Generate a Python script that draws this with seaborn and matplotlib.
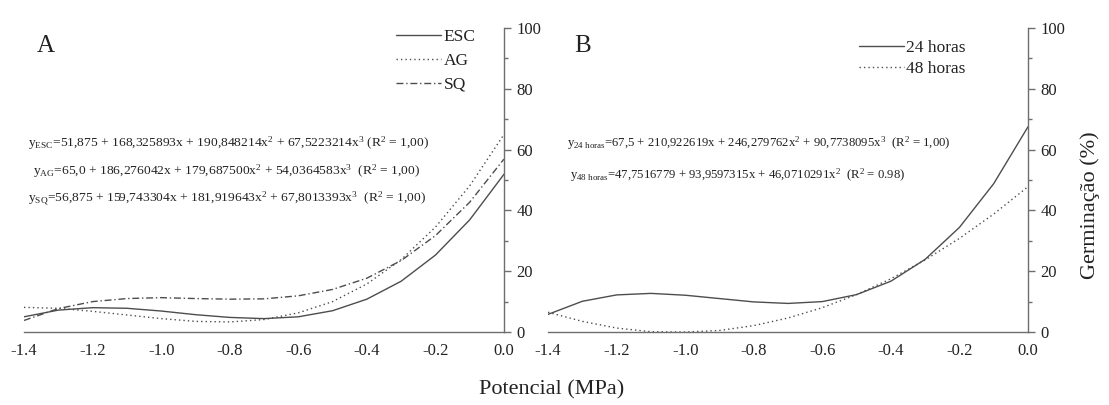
import matplotlib
matplotlib.use("Agg")
import matplotlib.pyplot as plt
import seaborn as sns
from matplotlib.ticker import MultipleLocator, FormatStrFormatter

# Water potential levels (MPa)
potencial = [-1.4, -1.3, -1.2, -1.1, -1.0, -0.9, -0.8, -0.7,
             -0.6, -0.5, -0.4, -0.3, -0.2, -0.1, 0.0]

# Panel A: germination (%) per treatment
esc = [5.0, 7.2, 8.0, 7.8, 6.9, 5.7, 4.8, 4.4, 5.0, 7.0, 10.8, 16.7, 25.3, 36.9, 51.9]
ag = [8.1, 7.8, 6.8, 5.6, 4.4, 3.5, 3.3, 4.1, 6.3, 10.0, 15.8, 23.8, 34.5, 48.1, 65.0]
sq = [3.8, 7.7, 10.0, 11.0, 11.3, 11.0, 10.8, 10.9, 11.9, 14.0, 17.7, 23.5, 31.7, 42.7, 56.9]

# Panel B: germination (%) per soaking time
h24 = [5.8, 10.1, 12.2, 12.7, 12.1, 11.0, 9.9, 9.4, 10.0, 12.3, 16.7, 23.9, 34.4, 48.8, 67.5]
h48 = [6.5, 3.5, 1.3, 0.1, 0.0, 0.5, 2.1, 4.6, 8.0, 12.3, 17.5, 23.7, 30.8, 38.8, 47.8]

labels_a = ["ESC", "AG", "SQ"]
labels_b = ["24 horas", "48 horas"]

eq_a = [
    r"$\mathrm{y}_{\mathrm{ESC}}$=51,875 + 168,325893x + 190,848214x$^{2}$ + 67,5223214x$^{3}$ (R$^{2}$ = 1,00)",
    r"$\mathrm{y}_{\mathrm{AG}}$=65,0 + 186,276042x + 179,687500x$^{2}$ + 54,0364583x$^{3}$  (R$^{2}$ = 1,00)",
    r"$\mathrm{y}_{\mathrm{SQ}}$=56,875 + 159,743304x + 181,919643x$^{2}$ + 67,8013393x$^{3}$  (R$^{2}$ = 1,00)",
]
eq_b = [
    r"$\mathrm{y}_{\mathrm{24\ horas}}$=67,5 + 210,922619x + 246,279762x$^{2}$ + 90,7738095x$^{3}$  (R$^{2}$ = 1,00)",
    r"$\mathrm{y}_{\mathrm{48\ horas}}$=47,7516779 + 93,9597315x + 46,0710291x$^{2}$  (R$^{2}$ = 0.98)",
]

sns.set_style("white")
plt.rcParams["font.family"] = ["Liberation Serif", "DejaVu Serif"]
plt.rcParams["mathtext.fontset"] = "custom"
plt.rcParams["mathtext.rm"] = "Liberation Serif"
plt.rcParams["mathtext.it"] = "Liberation Serif:italic"
plt.rcParams["axes.unicode_minus"] = False

line_c = "#4d4d4d"
axis_c = "#6e6e6e"
text_c = "#222222"

solid = "-"
dotted = (0, (1, 2.2))
dashdot = (0, (5, 2, 1, 2))

fig = plt.figure(figsize=(11.09, 4.05), dpi=100)
ax_a = fig.add_axes([24 / 1109, 1 - 332 / 405, 480 / 1109, 304 / 405])
ax_b = fig.add_axes([548 / 1109, 1 - 332 / 405, 480 / 1109, 304 / 405])


def style_axis(ax):
    ax.set_xlim(-1.4, 0.0)
    ax.set_ylim(0, 100)
    for side in ("left", "top"):
        ax.spines[side].set_visible(False)
    for side in ("bottom", "right"):
        ax.spines[side].set_color(axis_c)
        ax.spines[side].set_linewidth(1.0)
    ax.yaxis.tick_right()
    ax.xaxis.set_major_locator(MultipleLocator(0.2))
    ax.xaxis.set_minor_locator(MultipleLocator(0.1))
    ax.yaxis.set_major_locator(MultipleLocator(20))
    ax.yaxis.set_minor_locator(MultipleLocator(10))
    ax.xaxis.set_major_formatter(FormatStrFormatter("%.1f"))
    ax.tick_params(axis="both", which="major", direction="out", length=5,
                   width=1, color=axis_c, labelsize=12, labelcolor=text_c, pad=3)
    ax.tick_params(axis="both", which="minor", direction="out", length=3,
                   width=1, color=axis_c)
    ax.tick_params(axis="y", which="both", left=False, right=True,
                   labelleft=False, labelright=True, pad=4)
    ax.set_xlabel("")
    ax.set_ylabel("")
    ax.patch.set_alpha(0)


# Panel A
for vals, lab, ls in zip([esc, ag, sq], labels_a, [solid, dotted, dashdot]):
    sns.lineplot(x=potencial, y=vals, ax=ax_a, color=line_c, linewidth=1.0,
                 linestyle=ls, label=lab)
style_axis(ax_a)
leg_a = ax_a.legend(loc="upper right", bbox_to_anchor=(0.955, 1.02), frameon=False,
                    fontsize=12.5, handlelength=2.6, handletextpad=0.15,
                    labelspacing=0.45, borderaxespad=0)
for t in leg_a.get_texts():
    t.set_color(text_c)
ax_a.text(0.027, 0.94, "A", transform=ax_a.transAxes, fontsize=18,
          color=text_c, va="center", ha="left")
for i, (eq, dx) in enumerate(zip(eq_a, [0.008, 0.018, 0.008])):
    ax_a.text(dx, 0.62 - i * 0.09, eq, transform=ax_a.transAxes, fontsize=9.7,
              color=text_c, va="center", ha="left")

# Panel B
for vals, lab, ls in zip([h24, h48], labels_b, [solid, dotted]):
    sns.lineplot(x=potencial, y=vals, ax=ax_b, color=line_c, linewidth=1.0,
                 linestyle=ls, label=lab)
style_axis(ax_b)
leg_b = ax_b.legend(loc="upper right", bbox_to_anchor=(0.885, 0.985), frameon=False,
                    fontsize=12.5, handlelength=2.6, handletextpad=0.15,
                    labelspacing=0.3, borderaxespad=0)
for t in leg_b.get_texts():
    t.set_color(text_c)
ax_b.text(0.055, 0.94, "B", transform=ax_b.transAxes, fontsize=18,
          color=text_c, va="center", ha="left")
for i, (eq, dx) in enumerate(zip(eq_b, [0.04, 0.045])):
    ax_b.text(dx, 0.62 - i * 0.105, eq, transform=ax_b.transAxes, fontsize=9.2,
              color=text_c, va="center", ha="left")

fig.text(552 / 1109, 1 - 390 / 405, "Potencial (MPa)", fontsize=16,
         color=text_c, ha="center", va="center")
fig.text(1090 / 1109, 1 - 205 / 405, "Germinação (%)", fontsize=16,
         color=text_c, ha="center", va="center", rotation=90)

fig.savefig("out.png", dpi=100, facecolor="white")
